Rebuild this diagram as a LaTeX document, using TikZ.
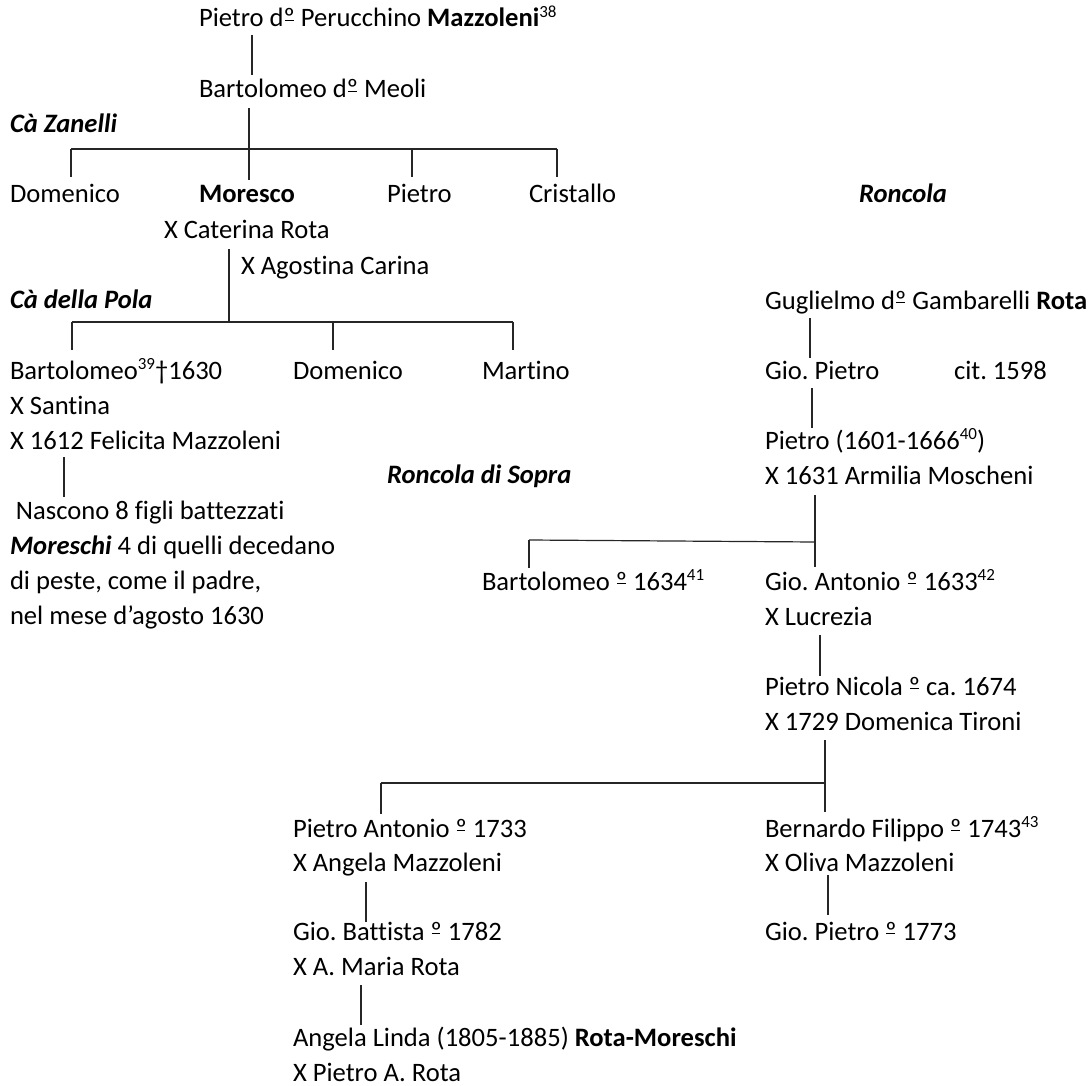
\documentclass[tikz,border=0pt]{standalone}
\usepackage{fontspec}
\setmainfont{Carlito}[Ligatures={NoCommon}]
\frenchspacing
\newcommand\fnref[1]{\raisebox{0.36em}{\fontsize{17}{17}\selectfont #1}}
% masculine ordinal with its underline bar
\newcommand\ordm{\rlap{\hspace{0.04em}\rule[0.21em]{0.33em}{0.055em}}º}
\tikzset{
  person/.style={anchor=base west, inner sep=0pt, outer sep=0pt,
                 font=\fontsize{26.6}{35}\selectfont},
  branch/.style={person, font=\fontsize{26.6}{35}\selectfont\bfseries\itshape},
  link/.style={line width=1.2pt, black!85, line cap=butt},
}
\begin{document}
\begin{tikzpicture}[x=1pt, y=-1pt]
\useasboundingbox (0,0) rectangle (1092,1086);

% ---- Mazzoleni line ----
\node[person] (pietroP) at (199,27) {Pietro d\ordm{} Perucchino \textbf{Mazzoleni}\fnref{38}};
\node[person] (bartM)   at (199,98) {Bartolomeo d\ordm{} Meoli};
\node[branch] (zanelli) at (10,133) {Cà Zanelli};
\node[person] (dom1)    at (10,203) {Domenico};
\node[person] (moresco) at (199,203) {\textbf{Moresco}};
\node[person] (pietro1) at (387,203) {Pietro};
\node[person] (crist)   at (529,203) {Cristallo};
\node[person] (cater)   at (164,238) {X Caterina Rota};
\node[person] (agost)   at (241,274) {X Agostina Carina};
\node[branch] (pola)    at (10,308) {Cà della Pola};
\node[person] (bart39)  at (10,379) {Bartolomeo\fnref{39}†1630};
\node[person] (dom2)    at (293,379) {Domenico};
\node[person] (mart)    at (482,379) {Martino};
\node[person] (sant)    at (10,414) {X Santina};
\node[person] (felic)   at (10,449) {X 1612 Felicita Mazzoleni};
\node[person] (nasc1)   at (16,519) {Nascono 8 figli battezzati};
\node[person] (nasc2)   at (10,554) {\textbf{\textit{Moreschi}} 4 di quelli decedano};
\node[person] (nasc3)   at (10,589) {di peste, come il padre,};
\node[person] (nasc4)   at (10,624) {nel mese d’agosto 1630};

% ---- Rota line ----
\node[branch] (roncola) at (859,203) {Roncola};
\node[person] (gugl)    at (765,309) {Guglielmo d\ordm{} Gambarelli \textbf{Rota}};
\node[person] (giop1)   at (765,379) {Gio. Pietro};
\node[person] (cit)     at (954,379) {cit. 1598};
\node[person] (pietro40) at (765,449) {Pietro (1601-1666\fnref{40})};
\node[person] (armil)   at (765,484) {X 1631 Armilia Moscheni};
\node[branch] (sopra)   at (387,483) {Roncola di Sopra};
\node[person] (bart41)  at (482,590) {Bartolomeo \ordm{} 1634\fnref{41}};
\node[person] (gioant)  at (765,590) {Gio. Antonio \ordm{} 1633\fnref{42}};
\node[person] (lucr)    at (765,625) {X Lucrezia};
\node[person] (pnic)    at (765,695) {Pietro Nicola \ordm{} ca. 1674};
\node[person] (tiron)   at (765,730) {X 1729 Domenica Tironi};
\node[person] (pant)    at (293,837) {Pietro Antonio \ordm{} 1733};
\node[person] (bern)    at (765,837) {Bernardo Filippo \ordm{} 1743\fnref{43}};
\node[person] (angm)    at (293,871) {X Angela Mazzoleni};
\node[person] (oliva)   at (765,871) {X Oliva Mazzoleni};
\node[person] (gbatt)   at (293,940) {Gio. Battista \ordm{} 1782};
\node[person] (giop2)   at (765,940) {Gio. Pietro \ordm{} 1773};
\node[person] (amaria)  at (293,975) {X A. Maria Rota};
\node[person] (alinda)  at (293,1046) {Angela Linda (1805-1885) \textbf{Rota-Moreschi}};
\node[person] (protA)   at (293,1081) {X Pietro A. Rota};

% ---- junction points ----
\coordinate (a1) at (252,35);  \coordinate (a2) at (252,75);
\coordinate (b1) at (249,108); \coordinate (b2) at (249,180);
\coordinate (zL) at (71,149);  \coordinate (zR) at (557,149);
\coordinate (zP) at (412,149);
\coordinate (c1) at (229,249); \coordinate (c2) at (229,322);
\coordinate (pL) at (72,322);  \coordinate (pR) at (513,322);
\coordinate (pD) at (333,322);
\coordinate (d1) at (64,457);  \coordinate (d2) at (64,497);
\coordinate (e1) at (810,318); \coordinate (e2) at (810,358);
\coordinate (f1) at (812,388); \coordinate (f2) at (812,428);
\coordinate (g1) at (815,495); \coordinate (g2) at (815,567);
\coordinate (gL) at (529,540); \coordinate (gR) at (815,542);
\coordinate (h1) at (820,635); \coordinate (h2) at (820,676);
\coordinate (k1) at (825,740); \coordinate (k2) at (825,812);
\coordinate (kL) at (381,783); \coordinate (kR) at (825,783);
\coordinate (m1) at (366,882); \coordinate (m2) at (366,922);
\coordinate (n1) at (828,875); \coordinate (n2) at (828,915);
\coordinate (q1) at (361,985); \coordinate (q2) at (361,1025);

% ---- connectors ----
\draw[link] (a1) -- (a2);
\draw[link] (b1) -- (b2);
\draw[link] (zL) -- (zR);
\draw[link] (zL) -- ++(0,28);
\draw[link] (zP) -- ++(0,28);
\draw[link] (zR) -- ++(0,28);
\draw[link] (c1) -- (c2);
\draw[link] (pL) -- (pR);
\draw[link] (pL) -- ++(0,28);
\draw[link] (pD) -- ++(0,28);
\draw[link] (pR) -- ++(0,28);
\draw[link] (d1) -- (d2);
\draw[link] (e1) -- (e2);
\draw[link] (f1) -- (f2);
\draw[link] (g1) -- (g2);
\draw[link] (gL) -- (gR);
\draw[link] (gL) -- ++(0,28);
\draw[link] (h1) -- (h2);
\draw[link] (k1) -- (k2);
\draw[link] (kL) -- (kR);
\draw[link] (kL) -- ++(0,31);
\draw[link] (m1) -- (m2);
\draw[link] (n1) -- (n2);
\draw[link] (q1) -- (q2);
\end{tikzpicture}
\end{document}
